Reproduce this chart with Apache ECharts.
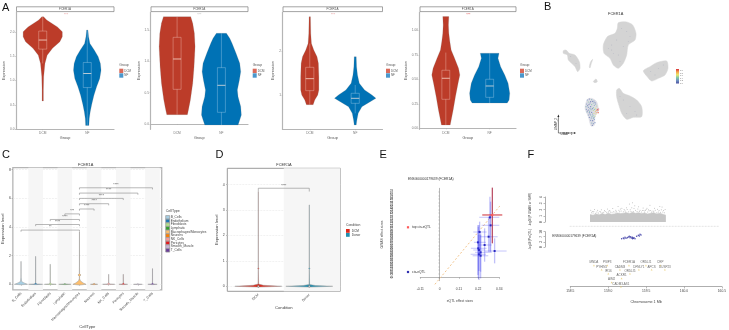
<!DOCTYPE html>
<html><head><meta charset="utf-8">
<style>html,body{margin:0;padding:0;background:#fff}#c{width:729px;height:330px}</style>
<script src="https://cdn.jsdelivr.net/npm/echarts@6/dist/echarts.min.js"></script>
</head><body><div id="c"></div>
<script>
// ---------- Panel A ----------
const groupNames = ['DCM', 'NF'];
const a1RedV = [2.31,2.24,2.10,2.00,1.90,1.795,1.66,1.52,1.35,1.08,0.80,0.58];
const a1RedW = [.02,.09,.33,.44,.44,.385,.22,.10,.05,.022,.015,.015];
const a1BlueV = [2.035,1.90,1.76,1.62,1.49,1.35,1.21,1.04,.87,.70,.51,.36,.22,.08];
const a1BlueW = [.015,.03,.06,.16,.245,.295,.31,.28,.21,.15,.10,.067,.045,.037];
const a2RedV = [1.713,1.606,1.447,1.234,.915,.649,.383,.223,.149];
const a2RedW = [.308,.353,.39,.406,.383,.353,.30,.256,.233];
const a2BlueV = [1.447,1.367,1.287,1.128,.968,.835,.702,.543,.436,.277,.144,.064,-.016];
const a2BlueW = [.113,.188,.24,.33,.414,.436,.406,.36,.376,.436,.45,.414,.376];
const a3RedV = [2.78,2.40,2.17,2.02,1.87,1.72,1.417,1.114,1.0,.886,.78];
const a3RedW = [.015,.022,.037,.088,.16,.19,.2,.2,.176,.11,.074];
const a3BlueV = [1.871,1.644,1.455,1.265,1.114,1.0,.924,.848,.735,.583,.432,.318];
const a3BlueW = [.022,.03,.05,.09,.206,.368,.456,.33,.147,.066,.037,.022];
const a4RedV = [1.143,1.058,.973,.887,.802,.717,.614,.546,.461,.324,.188,.034];
const a4RedW = [.069,.06,.069,.092,.122,.2,.29,.32,.28,.22,.168,.1];
const a4BlueV = [.768,.717,.631,.546,.461,.358,.29,.259];
const a4BlueW = [.214,.19,.25,.344,.42,.458,.443,.40];
// box stats: whisker high, q3, median, q1, whisker low
const a1RedBox = [2.31,2.014,1.83,1.644,1.35];
const a1BlueBox = [2.035,1.37,1.144,.856,.08];
const a2RedBox = [1.713,1.383,1.037,.553,.149];
const a2BlueBox = [1.447,.899,.617,.186,-.016];
const a3RedBox = [2.17,1.629,1.371,1.098,.78];
const a3BlueBox = [1.227,1.038,.924,.81,.583];
const a4RedBox = [.775,.594,.512,.297,.034];
const a4BlueBox = [.768,.502,.433,.317,.259];
const a1Ticks = [0,.5,1,1.5,2];
const a2Ticks = [0,.5,1,1.5];
const a3Ticks = [1,2];
const a4Ticks = [0,.25,.5,.75,1];
// ---------- Panel B (UMAP in plot units) ----------
const umapBlobs = [
 [[415,68],[440,66],[458,75],[468,100],[465,120],[445,135],[440,165],[430,190],[415,205],[400,195],[390,175],[372,160],[370,135],[382,110],[405,100],[412,85]],
 [[250,152],[258,150],[268,160],[285,165],[298,185],[300,205],[293,215],[285,200],[265,180],[262,165],[250,160]],
 [[328,200],[332,185],[338,178],[334,190],[330,204]],
 [[340,245],[348,237],[352,245],[345,248]],
 [[490,212],[510,200],[530,188],[560,183],[564,205],[555,225],[535,235],[515,243],[500,228]],
 [[410,270],[418,265],[430,280],[450,288],[470,300],[485,320],[485,350],[460,352],[440,358],[425,340],[415,310],[410,290]]
];
const umapCluster = [[[322,298],[335,295],[350,305],[355,330],[345,350],[343,376],[333,378],[325,350],[315,325]]];
const umapSpeckle = [[425,85],[440,95],[410,120],[395,135],[430,140],[415,165],[400,160],[385,145],[450,110],[420,185],[272,170],[288,190],[512,215],[535,205],[550,195],[525,225],[430,300],[450,320],[465,335],[440,340],[420,290],[470,345],[395,150],[445,125]];
const umapExpr = [[322,300,.2],[328,297,.1],[335,299,.3],[342,303,.2],[325,306,.4],[332,305,.1],[340,309,.3],[347,312,.2],[320,312,.2],[327,313,.1],[335,314,.4],[343,316,.3],[350,318,.5],[318,320,.3],[325,322,.2],[332,320,.1],[340,323,.4],[347,325,.6],[352,328,1],[356,327,1],[354,332,.95],[349,331,.8],[319,328,.2],[326,330,.1],[333,329,.3],[340,331,.5],[346,335,.7],[351,338,.85],[355,338,.95],[321,336,.3],[328,338,.2],[335,337,.1],[342,340,.6],[348,342,.65],[325,345,.2],[332,345,.3],[339,347,.4],[345,349,.5],[328,352,.1],[334,354,.2],[340,355,.3],[332,361,.2],[338,362,.1],[343,358,.2],[335,369,.3],[340,371,.2],[337,376,.1],[345,368,.15],[323,317,.15],[330,325,.25],[337,326,.15],[344,328,.35],[322,333,.1],[329,334,.35],[338,342,.2],[330,342,.15],[336,350,.3],[342,352,.25],[330,309,.2],[338,304,.1],[345,308,.15]];
const umapRamp = ['#D7303A','#F6A24A','#E9E76A','#7FC8A8','#6E8FC0','#4A4FA0'];
// ---------- Panel C ----------
const cellTypes = ['B_Cells','Endothelium','Fibroblasts','Lymphatic','Macrophages/Monocytes','Neurons','NK_Cells','Pericytes','Smooth_Muscle','T_Cells'];
const cellColors = ['#A6CEE3','#1F78B4','#B2DF8A','#33A02C','#FDBF6F','#FF7F00','#FB9A99','#E31A1C','#CAB2D6','#6A3D9A'];
const cellV = [
 [-.03,0,.1,.2,.5,1.6],[-.02,0,.03,.1,1.95],[-.02,0,.03,.1,1.4],[-.02,0,.03,.05],
 [-.05,0,.1,.25,.4,.55,.65,.75,1.2,3.65],[-.02,0,.03,.08],[-.02,0,.03,.1,.7],[-.02,0,.03,.1,.7],[-.02,0,.02,.05],[-.02,0,.03,.1,1.1]];
const cellW = [
 [.03,.45,.2,.04,.006,.003],[.03,.48,.1,.006,.003],[.03,.4,.1,.006,.003],[.03,.42,.08,.003],
 [.03,.45,.25,.06,.01,.01,.1,.01,.004,.003],[.03,.25,.06,.003],[.03,.42,.1,.006,.003],[.03,.3,.08,.006,.003],[.03,.3,.06,.003],[.03,.32,.08,.006,.003]];
const cellTicks = [0,2,4,6,8];
const cellBrackets = [[1,5,3.78,'**'],[2,5,4.17,'****'],[3,5,4.52,'****'],[4,5,4.91,'***'],[5,6,5.25,'****'],[5,7,5.62,'****'],[5,8,5.99,'****'],[5,9,6.36,'****'],[5,10,6.73,'****']];
const stripeCats = [2,4,6,8,10];
// ---------- Panel D ----------
const condNames = ['DCM','Donor'];
const condColors = ['#DC2A1C','#1F8FB0'];
const dcmV = [-.03,0,.04,.09,.66,.7,.74,3.72];
const dcmW = [.03,.46,.1,.006,.002,.012,.002,.002];
const donorV = [-.03,0,.03,.07,.66,.7,.74,3.2];
const donorW = [.03,.46,.12,.006,.002,.012,.002,.002];
const condTicks = [0,1,2,3,4];
const condBracket = [[1,2,3.856,'****']];
// ---------- Panel E ----------
const eqtlTicks = [-0.11,0,0.11,0.22,0.34];
const gwasTicks = [-0.007,0,0.007,0.015,0.022,0.03,0.037,0.045,0.052,0.06,0.067,0.075,0.082,0.09,0.097,0.105,0.112,0.12,0.127,0.135,0.142,0.15,0.157,0.165,0.172,0.18,0.187];
// x, xlow, xhigh, y, ylow, yhigh
const cisEqtl = [
 [.2867,.2259,.3399,.126,.0539,.1695],[.2905,.2392,.3399,.1092,.0539,.159],[.2278,.1918,.2677,.0952,.0469,.117],
 [.2791,.2297,.3304,.0854,.0539,.1274],[.2183,.1956,.2639,.0735,.0049,.1099],[.2563,.2202,.2962,.0679,.0329,.1029],
 [.2202,.1785,.2677,.0609,-.0021,.1064],[.2335,.2013,.2962,.0525,.0119,.0924],[.224,.1766,.2639,.0483,.0133,.0889],
 [.2335,.188,.2772,.0455,-.0021,.0889],[.3133,.2582,.3816,.0553,.0294,.0819],[.224,.1918,.2582,.0574,-.0056,.1099]];
const topEqtl = [[.300,.243,.357,.131,.0714,.1884]];
const diagonal = [[-.027,-.0147],[.404,.177]];
// ---------- Panel F ----------
const mbTicks = [158.5,159,159.5,160,160.5];
const gwasEnvX = [158.76,158.80,158.84,158.88,158.92,158.96,159.00,159.04,159.08,159.12,159.16,159.20,159.24,159.28,159.32,159.36,159.40,159.44,159.48,159.52,159.56,159.60,159.64,159.68,159.72,159.76];
const gwasEnvY = [1.2,1.1,1.3,1.15,1.35,1.2,1.4,1.25,1.3,1.45,1.35,1.4,1.5,1.35,1.55,1.4,1.5,1.35,1.45,1.3,1.4,1.5,1.3,1.4,1.25,1.1];
const gwasSparse = [[158.77,1.9],[158.78,1.5],[158.79,1.7],[158.80,1.45],[158.81,1.7],[158.82,2.0],[158.83,1.4],[158.85,1.6],[158.86,1.9],[158.87,1.45],[158.89,1.7],[158.90,1.6],[158.91,1.95],[158.92,1.5],[158.94,1.55],[158.95,1.85],[158.96,1.7],[158.98,1.55],[158.99,2.1],[159.00,1.6],[159.01,1.75],[159.02,1.85],[159.03,1.6],[159.05,1.55],[159.06,2.15],[159.07,1.65],[159.09,1.6],[159.10,1.9],[159.11,1.65],[159.13,2.5],[159.14,1.9],[159.15,1.65],[159.16,2.1],[159.17,1.75],[159.18,2.2],[159.20,1.65],[159.21,2.0],[159.22,1.8],[159.23,1.6],[159.24,2.3],[159.25,2.0],[159.27,1.65],[159.28,2.9],[159.29,1.95],[159.30,1.7],[159.31,2.3],[159.32,3.1],[159.33,1.7],[159.34,2.15],[159.35,2.6],[159.36,1.9],[159.38,1.7],[159.39,2.1],[159.40,2.45],[159.41,1.7],[159.42,1.9],[159.44,1.6],[159.45,1.85],[159.46,2.25],[159.47,1.85],[159.48,1.6],[159.49,1.85],[159.50,2.0],[159.51,2.2],[159.52,1.6],[159.53,1.95],[159.54,1.8],[159.55,2.7],[159.56,1.85],[159.57,1.6],[159.59,1.75],[159.60,1.65],[159.61,2.2],[159.62,1.9],[159.64,1.5],[159.65,2.05],[159.66,1.6],[159.67,1.85],[159.68,2.5],[159.69,1.55],[159.70,1.95],[159.71,2.4],[159.72,1.6],[159.73,1.85],[159.74,1.5],[159.75,2.0]];
const eqtlPts = [[159.177,5.4],[159.199,5.9],[159.208,5.4],[159.221,6.3],[159.234,5.7],[159.252,6.1],[159.265,6.5],[159.278,7],[159.287,6.1],[159.296,6.7],[159.309,5.9],[159.318,6.3],[159.331,5.7],[159.34,6.1],[159.322,5.4],[159.353,5.4],[159.375,7],[159.397,7.6],[159.41,7.2],[159.419,8.3],[159.432,7.8]];
const geneNames = ['MNDA','PSIP3','FCER1A','OR10J1','CRP','PYHIN1','CADM3','DFNLY1','APCS','DUSP23','IFI16','OR10J5','ACKR1','AIM2','CADM3-AS1'];
const genePos = [158.812,158.988,159.274,159.498,159.687,158.913,159.155,159.405,159.573,159.748,159.001,159.287,159.177,159.045,159.168];
const geneRow = [64,64,64,64,64,51,51,51,51,51,39,39,25,13,0];

const FONT = '"Liberation Sans",Arial,sans-serif';
const RED = '#BC3C29', BLUE = '#0072B5';
const zip = (v, w) => v.map((d, i) => [d, w[i]]);

function violin(g, center, vals, hw, color, box, o) {
  o = o || {};
  return {
    type: 'custom', coordinateSystem: 'cartesian2d', xAxisIndex: g, yAxisIndex: g, clip: false, silent: true,
    z: o.z || 3,
    data: [[center, vals[0]]],
    renderItem: function (p, api) {
      const L = [], R = [];
      vals.forEach((v, i) => { L.push(api.coord([center - hw[i], v])); R.unshift(api.coord([center + hw[i], v])); });
      const ch = [{ type: 'polygon', shape: { points: L.concat(R) }, style: { fill: color, stroke: o.stroke || 'rgba(120,120,120,.55)', lineWidth: o.lw || .35 } }];
      if (box) {
        const hb = .09, stroke = o.boxColor || 'rgba(255,225,215,.55)';
        const P = (x, y) => api.coord([x, y]);
        const a = P(center - hb, box[1]), b = P(center + hb, box[3]), cx = P(center, 0)[0];
        ch.push({ type: 'line', shape: { x1: cx, y1: P(center, box[0])[1], x2: cx, y2: a[1] }, style: { stroke, lineWidth: .6 } });
        ch.push({ type: 'line', shape: { x1: cx, y1: b[1], x2: cx, y2: P(center, box[4])[1] }, style: { stroke, lineWidth: .6 } });
        ch.push({ type: 'polyline', shape: { points: [[a[0], a[1]], [b[0], a[1]], [b[0], b[1]], [a[0], b[1]], [a[0], a[1]]] }, style: { fill: null, stroke, lineWidth: .6 } });
        const m = P(center, box[2]);
        ch.push({ type: 'line', shape: { x1: a[0], y1: m[1], x2: b[0], y2: m[1] }, style: { stroke: 'rgba(255,235,225,.9)', lineWidth: .8 } });
      }
      return { type: 'group', children: ch };
    }
  };
}
function brackets(g, rows, tip) {
  return {
    type: 'custom', coordinateSystem: 'cartesian2d', xAxisIndex: g, yAxisIndex: g, clip: false, silent: true, z: 6,
    data: rows.map(r => [r[0], r[2]]),
    renderItem: function (p, api) {
      const r = rows[p.dataIndex];
      const a = api.coord([r[0], r[2]]), b = api.coord([r[1], r[2]]), a2 = api.coord([r[0], r[2] - tip]), b2 = api.coord([r[1], r[2] - tip]);
      return { type: 'group', children: [
        { type: 'polyline', shape: { points: [a2, a, b, b2] }, style: { fill: null, stroke: '#8a8a8a', lineWidth: .6 } },
        { type: 'text', style: { text: r[3], x: (a[0] + b[0]) / 2, y: a[1] - 2.6, align: 'center', verticalAlign: 'middle', fontSize: 3.4, fill: '#555', fontFamily: FONT } }
      ] };
    }
  };
}
function txt(x, y, s, size, opt) {
  return { type: 'text', silent: true, x, y, rotation: (opt && opt.rot) || 0, style: Object.assign({ text: s, fontSize: size, fontFamily: FONT, fill: '#444', align: 'left', verticalAlign: 'middle' }, opt && opt.style) };
}
function rect(x, y, w, h, fill, stroke) {
  return { type: 'rect', silent: true, shape: { x, y, width: w, height: h }, style: { fill, stroke: stroke || 'none', lineWidth: .7 } };
}

const grids = [], xAxes = [], yAxes = [], series = [], gfx = [];
function addGrid(l, t, w, h, extra) { grids.push(Object.assign({ left: l, top: t, width: w, height: h, containLabel: false }, extra)); return grids.length - 1; }

// ----- Panel A -----
const A = [
 { l: 16, r: 114, yMin: 0, yMax: 2.405, ticks: a1Ticks, dec: 1, star: [66, '#e9a0a0'], leg: 119.3,
   v: [[a1RedV, a1RedW, a1RedBox], [a1BlueV, a1BlueW, a1BlueBox]] },
 { l: 150.5, r: 248, yMin: -.085, yMax: 1.787, ticks: a2Ticks, dec: 1, star: [199.3, '#bbb'], leg: 252.7,
   v: [[a2RedV, a2RedW, a2RedBox], [a2BlueV, a2BlueW, a2BlueBox]] },
 { l: 282.5, r: 382.5, yMin: .22, yMax: 2.886, ticks: a3Ticks, dec: 0, star: [333, '#e9a0a0'], leg: 386,
   v: [[a3RedV, a3RedW, a3RedBox], [a3BlueV, a3BlueW, a3BlueBox]] },
 { l: 419.5, r: 516, yMin: -.01, yMax: 1.19, ticks: a4Ticks, dec: 2, star: [468.3, '#e25555'], leg: 520,
   v: [[a4RedV, a4RedW, a4RedBox], [a4BlueV, a4BlueW, a4BlueBox]] }
];
A.forEach((p) => {
  const g = addGrid(p.l, 12, p.r - p.l, 117.3);
  const ax = { show: true, lineStyle: { color: '#b5b5b5', width: 1.2 } };
  xAxes.push({ gridIndex: g, type: 'value', min: .4, max: 2.6, splitLine: { show: false }, axisLine: ax,
    axisTick: { show: true, length: 1, customValues: [1, 2], lineStyle: { color: '#aaa', width: .5 } },
    axisLabel: { show: true, customValues: [1, 2], margin: 2, fontSize: 3.2, color: '#777', fontFamily: FONT, formatter: v => groupNames[v - 1] },
    name: 'Group', nameLocation: 'middle', nameGap: 6.5, nameTextStyle: { fontSize: 3.8, color: '#555', fontFamily: FONT } });
  yAxes.push({ gridIndex: g, type: 'value', min: p.yMin, max: p.yMax, splitLine: { show: false }, axisLine: ax,
    axisTick: { show: true, length: 1, customValues: p.ticks, lineStyle: { color: '#aaa', width: .5 } },
    axisLabel: { show: true, customValues: p.ticks, margin: 1.5, fontSize: 3.2, color: '#777', fontFamily: FONT, formatter: v => v.toFixed(p.dec) },
    name: 'Expression', nameLocation: 'middle', nameRotate: 90, nameGap: 6, nameTextStyle: { fontSize: 3.8, color: '#555', fontFamily: FONT } });
  series.push(violin(g, 1, p.v[0][0], p.v[0][1], RED, p.v[0][2]));
  series.push(violin(g, 2, p.v[1][0], p.v[1][1], BLUE, p.v[1][2], { boxColor: 'rgba(210,235,250,.5)' }));
  gfx.push(rect(p.l + .5, 6.8, p.r - p.l - .5, 4.8, '#fff', '#7d7d7d'));
  gfx.push(txt((p.l + p.r) / 2, 9.2, 'FCER1A', 3, { style: { align: 'center', fill: '#555' } }));
  gfx.push(txt(p.star[0], 15.2, '***', 3.6, { style: { align: 'center', fill: p.star[1] } }));
  gfx.push(txt(p.leg, 65.5, 'Group', 3.4, { style: { fill: '#555' } }));
  gfx.push(rect(p.leg, 68.7, 4, 4.4, '#D96A5A'));
  gfx.push(rect(p.leg, 73.3, 4, 4.4, '#4A97CC'));
  gfx.push(txt(p.leg + 5, 70.9, groupNames[0], 2.9, { style: { fill: '#555' } }));
  gfx.push(txt(p.leg + 5, 75.5, groupNames[1], 2.9, { style: { fill: '#555' } }));
});

// ----- Panel B -----
{
  const g = addGrid(480, 0, 249, 150);
  const off = { show: false };
  xAxes.push({ gridIndex: g, type: 'value', min: 0, max: 747, show: false, splitLine: off });
  yAxes.push({ gridIndex: g, type: 'value', min: 0, max: 450, inverse: true, show: false, splitLine: off });
  const blobSeries = (list, fill) => ({ type: 'custom', coordinateSystem: 'cartesian2d', xAxisIndex: g, yAxisIndex: g, silent: true, z: 2,
    data: list.map(b => b[0]),
    renderItem: function (p, api) {
      return { type: 'polygon', shape: { points: list[p.dataIndex].map(q => api.coord(q)), smooth: .25 }, style: { fill, stroke: fill, lineWidth: .5 } };
    } });
  series.push(blobSeries(umapBlobs, '#d4d4d4'));
  series.push(blobSeries(umapCluster, '#dcdce4'));
  series.push({ type: 'scatter', xAxisIndex: g, yAxisIndex: g, symbolSize: .9, silent: true, z: 3, data: umapSpeckle, itemStyle: { color: '#a4a8bc' } });
  series.push({ type: 'scatter', xAxisIndex: g, yAxisIndex: g, symbolSize: 1.2, silent: true, z: 4, data: umapExpr });
  var umapSeriesIndex = series.length - 1;
  gfx.push(txt(615.7, 14.3, 'FCER1A', 3.9, { style: { align: 'center', fill: '#333' } }));
  gfx.push({ type: 'polyline', silent: true, shape: { points: [[558.4, 116], [558.4, 133], [574, 133]] }, style: { fill: null, stroke: '#333', lineWidth: .6 } });
  gfx.push({ type: 'polygon', silent: true, shape: { points: [[557.4, 117], [559.4, 117], [558.4, 114.5]] }, style: { fill: '#222' } });
  gfx.push({ type: 'polygon', silent: true, shape: { points: [[574, 132], [574, 134], [576, 133]] }, style: { fill: '#222' } });
  gfx.push(txt(566.5, 134.4, 'UMAP_1', 3, { style: { align: 'center', fill: '#333' } }));
  gfx.push(txt(556, 124, 'UMAP_2', 3, { rot: Math.PI / 2, style: { align: 'center', fill: '#333' } }));
  gfx.push({ type: 'rect', silent: true, shape: { x: 676, y: 69, width: 3, height: 14.5 }, style: {
    fill: { type: 'linear', x: 0, y: 0, x2: 0, y2: 1, colorStops: umapRamp.map((c, i) => ({ offset: i / (umapRamp.length - 1), color: c })) } } });
  ['1.0', '0.8', '0.6', '0.4', '0.2', '0.0'].forEach((s, i) => gfx.push(txt(680, 70.5 + i * 2.6, s, 2, { style: { fill: '#666' } })));
}

// ----- Panel C -----
{
  const g = addGrid(10.7, 167.7, 151, 123.3, { show: true, borderColor: '#b5b5b5', borderWidth: 1.3, backgroundColor: '#fff' });
  xAxes.push({ gridIndex: g, type: 'value', min: .44, max: 10.63, splitLine: { show: false }, axisLine: { show: false },
    axisTick: { show: true, length: 1.3, customValues: cellTypes.map((c, i) => i + 1), lineStyle: { color: '#888', width: .5 } },
    axisLabel: { show: true, customValues: cellTypes.map((c, i) => i + 1), rotate: 45, margin: 3, fontSize: 3.5, color: '#444', fontFamily: FONT, formatter: v => cellTypes[v - 1] },
    name: 'CellType', nameLocation: 'middle', nameGap: 33, nameTextStyle: { fontSize: 4.2, color: '#444', fontFamily: FONT } });
  yAxes.push({ gridIndex: g, type: 'value', min: -.39, max: 8.13, axisLine: { show: false },
    splitLine: { show: true, lineStyle: { color: '#e2e2e2', type: 'dashed', width: .5 } },
    axisTick: { show: true, length: 1.3, customValues: cellTicks, lineStyle: { color: '#888', width: .5 } },
    axisLabel: { show: true, customValues: cellTicks, margin: 2, fontSize: 3.5, color: '#444', fontFamily: FONT },
    name: 'Expression level', nameLocation: 'middle', nameRotate: 90, nameGap: 6, nameTextStyle: { fontSize: 4.2, color: '#444', fontFamily: FONT } });
  series.push({ type: 'custom', coordinateSystem: 'cartesian2d', xAxisIndex: g, yAxisIndex: g, silent: true, z: 1,
    data: stripeCats.map(c => [c, 0]),
    renderItem: function (p, api) {
      const c = stripeCats[p.dataIndex], a = api.coord([c - .5, 8.13]), b = api.coord([c + .5, -.39]);
      return { type: 'rect', shape: { x: a[0], y: a[1], width: b[0] - a[0], height: b[1] - a[1] }, style: { fill: '#f6f6f6' } };
    } });
  cellTypes.forEach((c, i) => {
    series.push(violin(g, i + 1, cellV[i], cellW[i], cellColors[i], null, { stroke: '#8f8f8f', lw: .45 }));
  });
  series.push(brackets(g, cellBrackets, .115));
  gfx.push(txt(85.7, 165.3, 'FCER1A', 3.9, { style: { align: 'center', fill: '#333' } }));
  gfx.push(txt(165.7, 211, 'CellType', 3.6, { style: { fill: '#444' } }));
  cellTypes.forEach((c, i) => {
    const y = 145 + (212 + i * 11) / 3 + 1.6;
    gfx.push(rect(165.7, y - 1.7, 4, 3.5, cellColors[i], '#999'));
    gfx.push(txt(170.7, y, c, 3.2, { style: { fill: '#444' } }));
  });
}

// ----- Panel D -----
{
  const g = addGrid(227.3, 168.3, 113, 123, { show: true, borderColor: '#9a9a9a', borderWidth: 1, backgroundColor: '#fff' });
  xAxes.push({ gridIndex: g, type: 'value', min: .392, max: 2.608, splitLine: { show: false }, axisLine: { show: false },
    axisTick: { show: true, length: 1.3, customValues: [1, 2], lineStyle: { color: '#888', width: .5 } },
    axisLabel: { show: true, customValues: [1, 2], rotate: 45, margin: 3, fontSize: 3.5, color: '#444', fontFamily: FONT, formatter: v => condNames[v - 1] },
    name: 'Condition', nameLocation: 'middle', nameGap: 14.5, nameTextStyle: { fontSize: 4.2, color: '#444', fontFamily: FONT } });
  yAxes.push({ gridIndex: g, type: 'value', min: -.197, max: 4.64, axisLine: { show: false },
    splitLine: { show: true, lineStyle: { color: '#e4e4e4', type: 'dashed', width: .5 } },
    axisTick: { show: true, length: 1.3, customValues: condTicks, lineStyle: { color: '#888', width: .5 } },
    axisLabel: { show: true, customValues: condTicks, margin: 2.5, fontSize: 3.5, color: '#444', fontFamily: FONT },
    name: 'Expression level', nameLocation: 'middle', nameRotate: 90, nameGap: 6.5, nameTextStyle: { fontSize: 4.2, color: '#444', fontFamily: FONT } });
  series.push({ type: 'custom', coordinateSystem: 'cartesian2d', xAxisIndex: g, yAxisIndex: g, silent: true, z: 1,
    data: [[2, 0]],
    renderItem: function (p, api) {
      const a = api.coord([1.5, 4.64]), b = api.coord([2.608, -.197]);
      return { type: 'rect', shape: { x: a[0], y: a[1], width: b[0] - a[0], height: b[1] - a[1] }, style: { fill: '#f6f6f6' } };
    } });
  series.push(violin(g, 1, dcmV, dcmW, condColors[0], null, { stroke: '#9a9a9a', lw: .5 }));
  series.push(violin(g, 2, donorV, donorW, condColors[1], null, { stroke: '#9a9a9a', lw: .5 }));
  series.push({ type: 'scatter', xAxisIndex: g, yAxisIndex: g, silent: true, z: 5, symbolSize: 2, data: [[1, 0], [2, 0]], itemStyle: { color: '#fff', borderColor: '#444', borderWidth: .5 } });
  series.push(brackets(g, condBracket, .13));
  gfx.push(txt(284, 165.3, 'FCER1A', 3.9, { style: { align: 'center', fill: '#333' } }));
  gfx.push(txt(346, 225.5, 'Condition', 3.4, { style: { fill: '#444' } }));
  gfx.push(rect(346, 229, 3.7, 3.8, condColors[0]));
  gfx.push(rect(346, 233, 3.7, 3.8, condColors[1]));
  gfx.push(txt(351.7, 231, condNames[0], 3.2, { style: { fill: '#444' } }));
  gfx.push(txt(351.7, 235, condNames[1], 3.2, { style: { fill: '#444' } }));
}

// ----- Panel E -----
{
  const g = addGrid(420.3, 188.3, 79, 92.4);
  const ax = { show: true, lineStyle: { color: '#888', width: .6 } };
  xAxes.push({ gridIndex: g, type: 'value', min: -.11, max: .34, offset: 3.7, splitLine: { show: false }, axisLine: ax,
    axisTick: { show: true, length: 1.5, customValues: eqtlTicks, lineStyle: { color: '#888', width: .5 } },
    axisLabel: { show: true, customValues: eqtlTicks, margin: 3.5, fontSize: 3.3, color: '#444', fontFamily: FONT },
    name: 'eQTL effect sizes', nameLocation: 'middle', nameGap: 15, nameTextStyle: { fontSize: 3.4, color: '#444', fontFamily: FONT } });
  yAxes.push({ gridIndex: g, type: 'value', min: -.007, max: .187, offset: 24.7, splitLine: { show: false }, axisLine: ax,
    axisTick: { show: true, length: 1.3, customValues: gwasTicks, lineStyle: { color: '#888', width: .4 } },
    axisLabel: { show: true, customValues: gwasTicks, rotate: 90, margin: 2.2, fontSize: 2.9, color: '#444', fontFamily: FONT, hideOverlap: false },
    name: 'GWAS effect sizes', nameLocation: 'middle', nameRotate: 90, nameGap: 12, nameTextStyle: { fontSize: 3.4, color: '#444', fontFamily: FONT } });
  series.push({ type: 'line', xAxisIndex: g, yAxisIndex: g, clip: false, silent: true, symbol: 'none', z: 2, data: diagonal, lineStyle: { color: '#F2C58E', width: 1, type: [2, 2] } });
  const err = (rows, cv, ch, cd, w) => ({
    type: 'custom', coordinateSystem: 'cartesian2d', xAxisIndex: g, yAxisIndex: g, clip: false, silent: true, z: 3,
    data: rows.map(r => [r[0], r[3]]),
    renderItem: function (p, api) {
      const r = rows[p.dataIndex], c = api.coord([r[0], r[3]]);
      const hl = api.coord([r[1], r[3]]), hr = api.coord([r[2], r[3]]), vt = api.coord([r[0], r[5]]), vb = api.coord([r[0], r[4]]);
      return { type: 'group', children: [
        { type: 'line', shape: { x1: hl[0], y1: hl[1], x2: hr[0], y2: hr[1] }, style: { stroke: ch, lineWidth: w } },
        { type: 'line', shape: { x1: vt[0], y1: vt[1], x2: vb[0], y2: vb[1] }, style: { stroke: cv, lineWidth: w } },
        { type: 'rect', shape: { x: c[0] - 1, y: c[1] - 1, width: 2, height: 2 }, style: { fill: cd } }
      ] };
    } });
  series.push(err(cisEqtl, 'rgba(50,50,235,.3)', 'rgba(50,50,235,.22)', '#2A2AC0', 1.3));
  series.push(err(topEqtl, '#A8213F', '#CF2B33', '#FF5A5A', 1));
  gfx.push(txt(408, 179, 'ENSG00000179639 (FCER1A)', 3.3, { style: { fill: '#333' } }));
  gfx.push(rect(406.9, 226.2, 2.2, 2.2, '#FF5A5A'));
  gfx.push(txt(412, 227.5, 'top cis-eQTL', 3.3, { style: { fill: '#333' } }));
  gfx.push(rect(406.9, 270.9, 2.2, 2.2, '#3030B0'));
  gfx.push(txt(412, 272, 'cis-eQTL', 3.3, { style: { fill: '#333' } }));
}

// ----- Panel F -----
{
  const left = 570.3, width = 151.7;
  const ax = { show: true, lineStyle: { color: '#777', width: .6 } };
  // GWAS track
  let g = addGrid(left, 197, width, 25);
  xAxes.push({ gridIndex: g, type: 'value', min: 158.5, max: 160.5, show: false, splitLine: { show: false } });
  yAxes.push({ gridIndex: g, type: 'value', min: 0, max: 4, offset: 25.3, splitLine: { show: false }, axisLine: ax,
    axisTick: { show: true, length: 1.5, customValues: [0, 1, 2, 3, 4], lineStyle: { color: '#777', width: .5 } },
    axisLabel: { show: true, customValues: [0, 1, 2, 3, 4], margin: 2.5, rotate: 90, fontSize: 3.2, color: '#444', fontFamily: FONT },
    name: '-log10(P GWAS or SMR)', nameLocation: 'middle', nameRotate: 90, nameGap: 13.5, nameTextStyle: { fontSize: 3, color: '#444', fontFamily: FONT } });
  series.push({ type: 'line', xAxisIndex: g, yAxisIndex: g, silent: true, symbol: 'none', z: 2, data: zip(gwasEnvX, gwasEnvY), lineStyle: { color: '#c4c4c4', width: .5 }, areaStyle: { color: '#c6c6c6', opacity: 1 } });
  series.push({ type: 'scatter', xAxisIndex: g, yAxisIndex: g, silent: true, symbolSize: 1, z: 3, data: gwasSparse, itemStyle: { color: '#aaa' } });
  series.push({ type: 'line', xAxisIndex: g, yAxisIndex: g, clip: false, silent: true, symbol: 'none', z: 2, data: [[158.254, -.69], [160.465, -.69]], lineStyle: { color: '#d8d8d8', width: .7, type: [2, 1] } });
  // eQTL track
  g = addGrid(left, 231.7, width, 15.3);
  xAxes.push({ gridIndex: g, type: 'value', min: 158.5, max: 160.5, show: false, splitLine: { show: false } });
  yAxes.push({ gridIndex: g, type: 'value', min: 0, max: 10, offset: 25.3, splitLine: { show: false }, axisLine: ax,
    axisTick: { show: true, length: 1.5, customValues: [0, 3.3, 6.7, 10], lineStyle: { color: '#777', width: .5 } },
    axisLabel: { show: true, customValues: [0, 3.3, 6.7, 10], margin: 2.5, rotate: 90, fontSize: 3.2, color: '#444', fontFamily: FONT, formatter: v => String(Math.round(v - .2)) },
    name: '-log10(P eQTL)', nameLocation: 'middle', nameRotate: 90, nameGap: 13.5, nameTextStyle: { fontSize: 3, color: '#444', fontFamily: FONT } });
  series.push({ type: 'scatter', xAxisIndex: g, yAxisIndex: g, silent: true, symbolSize: 1.5, z: 3, data: eqtlPts, itemStyle: { color: '#22229A' } });
  gfx.push(txt(552.3, 236, 'ENSG00000179639 (FCER1A)', 3.2, { style: { fill: '#333' } }));
  // Gene track + chromosome axis
  g = addGrid(left, 260, width, 26.7);
  xAxes.push({ gridIndex: g, type: 'value', min: 158.5, max: 160.5, splitLine: { show: false }, axisLine: ax,
    axisTick: { show: true, length: 1.7, customValues: mbTicks, lineStyle: { color: '#777', width: .5 } },
    axisLabel: { show: true, customValues: mbTicks, margin: 3.2, fontSize: 3.3, color: '#444', fontFamily: FONT, formatter: v => v.toFixed(1) },
    name: 'Chromosome 1 Mb', nameLocation: 'middle', nameGap: 13, nameTextStyle: { fontSize: 3.7, color: '#444', fontFamily: FONT } });
  yAxes.push({ gridIndex: g, type: 'value', min: 0, max: 80, show: false, splitLine: { show: false } });
  series.push({ type: 'scatter', xAxisIndex: g, yAxisIndex: g, clip: false, silent: true, z: 3, symbol: 'triangle', symbolSize: 1.8,
    data: genePos.map((x, i) => ({ value: [x, geneRow[i]], label: { show: true, formatter: geneNames[i], position: 'top', distance: .6, fontSize: 3, color: '#444', fontFamily: FONT } })),
    itemStyle: { color: '#E6C766' } });
}

// ----- Panel letters -----
[['A', 2, 8], ['B', 544, 7], ['C', 2, 155], ['D', 215.5, 155], ['E', 379.5, 155], ['F', 527.5, 155]].forEach(l =>
  gfx.push(txt(l[1], l[2], l[0], 11, { style: { fill: '#111' } })));

const chart = echarts.init(document.getElementById('c'), null, { renderer: 'canvas' });
chart.setOption({
  animation: false, backgroundColor: '#fff', tooltip: { show: false },
  grid: grids, xAxis: xAxes, yAxis: yAxes, series,
  visualMap: [{ type: 'continuous', show: false, seriesIndex: umapSeriesIndex, dimension: 2, min: 0, max: 1,
    inRange: { color: umapRamp.slice().reverse() } }],
  graphic: { elements: gfx }
});
</script></body></html>
